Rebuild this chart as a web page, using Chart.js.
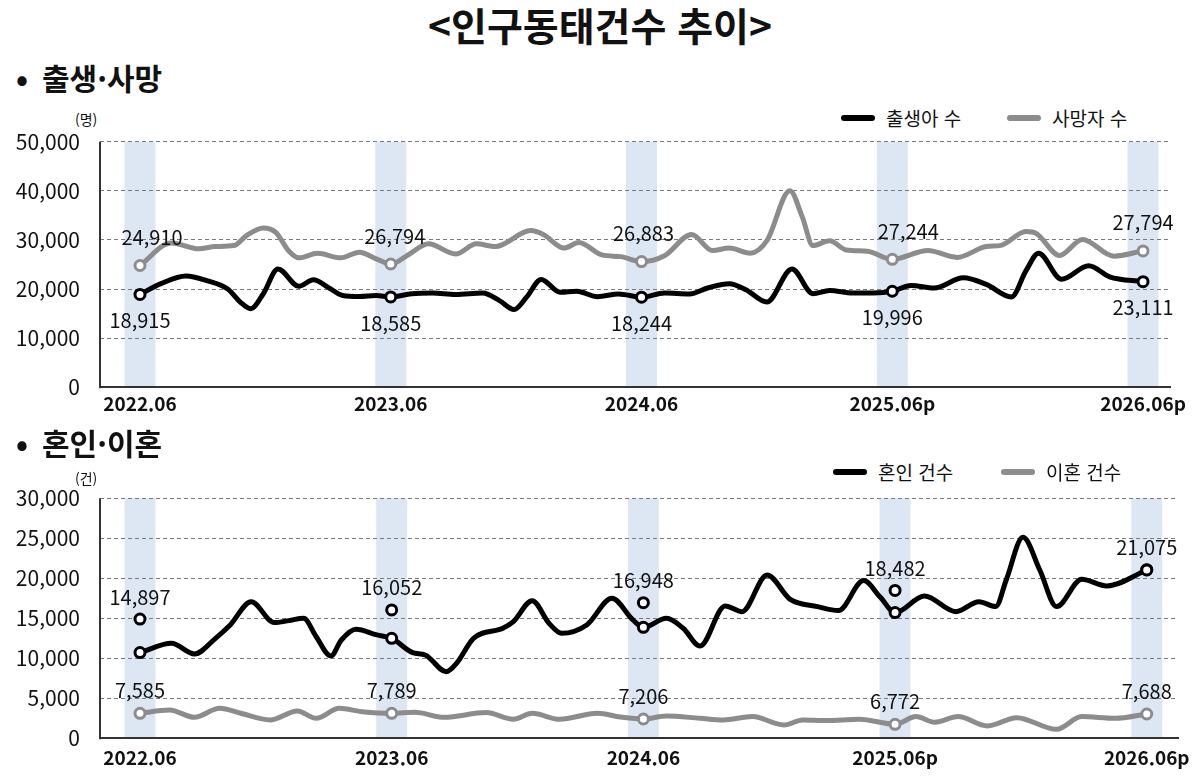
<!DOCTYPE html>
<html lang="ko">
<head>
<meta charset="utf-8">
<script src="https://cdn.jsdelivr.net/npm/chart.js@4.4.1/dist/chart.umd.min.js"></script>
<style>
html,body{margin:0;padding:0;background:#fff;}
body{width:1200px;height:780px;position:relative;overflow:hidden;font-family:'Noto Sans CJK KR','Noto Sans',sans-serif;color:#111;}
.title{position:absolute;left:0;top:1px;width:1200px;text-align:center;font-weight:700;font-size:39px;line-height:46px;}
.sec{position:absolute;left:16px;font-weight:700;font-size:30px;line-height:38px;display:flex;align-items:center;}
.sec b{font-size:30px;margin-right:14px;}
.unit{position:absolute;left:75px;font-size:14px;line-height:18px;}
.leg{position:absolute;display:flex;align-items:center;font-size:19px;line-height:24px;color:#111;}
.leg i{display:inline-block;width:34px;height:6px;border-radius:3px;margin-right:11px;}
.wrap{position:absolute;left:0;width:1200px;}
canvas{display:block;}
</style>
</head>
<body>
<div class="title">&lt;인구동태건수 추이&gt;</div>
<div class="sec" style="top:58px;"><b>•</b>출생·사망</div>
<div class="unit" style="top:110px;">(명)</div>
<div class="leg" style="left:841px;top:106px;"><i style="background:#000"></i>출생아 수</div>
<div class="leg" style="left:1007px;top:106px;"><i style="background:#8c8c8c"></i>사망자 수</div>
<div class="wrap" style="top:95px;height:330px;"><canvas id="c1" width="1200" height="330"></canvas></div>

<div class="sec" style="top:423px;"><b>•</b>혼인·이혼</div>
<div class="unit" style="top:469px;">(건)</div>
<div class="leg" style="left:833px;top:460px;"><i style="background:#000"></i>혼인 건수</div>
<div class="leg" style="left:1001px;top:460px;"><i style="background:#8c8c8c"></i>이혼 건수</div>
<div class="wrap" style="top:455px;height:320px;"><canvas id="c2" width="1200" height="320"></canvas></div>

<script>
// ---- tick labels (months since 2022.06) ----
const xTickMonths = [0, 12, 24, 36, 48];
const xLabels = ['2022.06', '2023.06', '2024.06', '2025.06p', '2026.06p'];

// ---- 출생아 수 (births) ----
const birthMonths = [0,1.0,2.2,3.2,4.2,4.8,5.3,5.9,6.6,7.6,8.3,9.0,9.7,10.5,11.3,12,13.0,14.0,15.1,16.4,17.2,17.9,18.5,19.2,20.1,20.9,21.9,22.9,24,25.1,26.3,27.2,28.2,29.0,30.0,31.2,32.2,33.0,34.1,35.1,36,36.9,38.0,39.4,40.5,41.7,42.4,43.0,44.1,45.4,46.4,48];
const birthValues = [18915,21100,22650,21700,20000,17350,16000,19050,24100,20550,21900,20350,18700,18500,18700,18400,19050,19200,18900,19200,17650,15850,18350,21950,19350,19550,18450,19000,18350,19200,19000,20270,21100,19850,17350,24100,19050,19700,19200,19200,19550,20750,20200,22300,20950,18400,23750,27300,22000,24750,22500,21500];
const birthLabels = ['18,915','18,585','18,244','19,996','23,111'];

// ---- 사망자 수 (deaths) ----
const deathMonths = [0,1.5,2.8,3.6,4.5,5.1,5.9,6.5,7.1,7.6,8.5,9.6,10.5,11.3,12,12.9,13.8,15.1,16.1,17.0,18.7,19.3,20.3,21.0,22.1,23.0,24,25.1,26.4,27.4,28.2,29.2,30.0,31.1,31.7,32.2,33.0,33.8,34.8,36,37.7,39.1,40.5,41.2,42.4,42.9,44.0,45.1,46.6,48];
const deathValues = [24800,29400,28200,28650,28850,30900,32450,31550,27850,26350,27300,26350,27500,26150,25100,27150,29200,27150,29200,28650,31900,31100,28350,29500,26950,26600,25600,26800,31100,27850,28350,27300,29850,40000,34600,28850,29850,27950,27700,26050,27850,26450,28650,28900,31700,31300,26850,30100,26700,27770];
const deathLabels = ['24,910','26,794','26,883','27,244','27,794'];

// ---- 혼인 건수 (marriages) ----
const marMonths = [0,1.5,2.6,3.6,4.3,5.3,6.4,7.1,7.8,8.4,9.1,9.6,10.3,11.3,12,13.0,13.6,14.6,15.1,15.9,17.3,17.8,18.7,19.5,20.1,21.3,22.5,23.5,24,25.1,25.9,26.7,27.9,28.7,29.9,31.0,32.3,33.3,34.5,35.3,36,37.4,38.9,40.0,40.8,41.3,42.1,42.9,43.7,44.9,46.1,48];
const marValues = [10710,11875,10540,12500,14170,17080,14460,14710,15000,12700,10290,12290,13625,12920,12500,10710,10420,8330,9400,12500,13750,14580,17200,14375,13125,14170,17500,14790,13875,15000,13750,11540,16540,15830,20420,17375,16460,15960,19710,17625,15710,17790,15830,17080,16460,19790,25125,21040,16460,19875,19040,21040];
const marMarkMonths = [0, 12, 24, 36, 48];
const marMarkValues = [14897, 16052, 16948, 18482, 21075];
const marLabels = ['14,897','16,052','16,948','18,482','21,075'];

// ---- 이혼 건수 (divorces) ----
const divMonths = [0,1.4,2.6,3.8,4.8,6.2,7.5,8.4,9.5,10.6,12,13.1,14.5,16.5,17.8,18.7,20.0,21.8,23.0,24,25.1,26.7,27.8,29.2,30.7,31.6,32.7,34.3,36,37.0,37.9,39.0,40.4,41.8,43.7,44.9,46.5,48];
const divValues = [3125,3540,2625,3750,3125,2290,3420,2500,3750,3330,3125,3250,2625,3210,2375,3125,2375,3125,2625,2415,2790,2500,2290,2710,1670,2290,2210,2375,1750,2710,2000,2710,1540,2580,1125,2710,2500,3040];
const divLabels = ['7,585','7,789','7,206','6,772','7,688'];

const FONT = "'Noto Sans CJK KR', 'Noto Sans', sans-serif";
Chart.defaults.font.family = FONT;
Chart.defaults.color = '#111';

const BLACK = '#000000';
const GRAY = '#8c8c8c';
const BAND = '#dde7f4';

function series(ms, vs) { return ms.map((m, i) => ({ x: m, y: vs[i] })); }
const isJune = c => c.raw && (c.raw.x % 12 === 0);

const bandPlugin = {
  id: 'bands',
  beforeDraw(chart) {
    const { ctx, chartArea: a, scales: { x } } = chart;
    ctx.save();
    ctx.fillStyle = BAND;
    xTickMonths.forEach(m => {
      const px = x.getPixelForValue(m);
      ctx.fillRect(px - 15.5, a.top, 31, a.bottom - a.top);
    });
    ctx.restore();
  }
};
const yLinePlugin = {
  id: 'yline',
  beforeDatasetsDraw(chart) {
    const { ctx, chartArea: a } = chart;
    ctx.save();
    ctx.strokeStyle = '#333';
    ctx.lineWidth = 2;
    ctx.beginPath();
    ctx.moveTo(a.left, a.top);
    ctx.lineTo(a.left, a.bottom + 1);
    ctx.stroke();
    ctx.restore();
  }
};
const labelPlugin = {
  id: 'vlabels',
  afterDatasetsDraw(chart, args, opts) {
    const ctx = chart.ctx;
    ctx.save();
    ctx.font = '20px ' + FONT;
    ctx.fillStyle = '#111';
    ctx.textAlign = 'center';
    ctx.textBaseline = 'middle';
    (opts.sets || []).forEach(s => {
      const meta = chart.getDatasetMeta(s.dataset);
      const data = chart.data.datasets[s.dataset].data;
      xTickMonths.forEach((m, k) => {
        const idx = data.findIndex(p => p.x === m);
        if (idx < 0) return;
        const el = meta.data[idx];
        const dx = (s.dx && s.dx[k]) || 0;
        ctx.fillText(s.texts[k], el.x + dx, el.y + s.dy);
      });
    });
    ctx.restore();
  }
};

function lineDs(label, data, color) {
  return {
    label, data,
    borderColor: color, backgroundColor: color,
    borderWidth: 5, borderCapStyle: 'round', borderJoinStyle: 'round',
    cubicInterpolationMode: 'monotone', fill: false,
    pointRadius: c => isJune(c) ? 5 : 0,
    pointHoverRadius: c => isJune(c) ? 5 : 0,
    pointBackgroundColor: '#fff', pointBorderColor: color, pointBorderWidth: 3
  };
}

function makeOptions(o) {
  return {
    responsive: false, animation: false, events: [],
    layout: { padding: { top: o.padTop, right: o.padRight, left: 0, bottom: 0 } },
    plugins: {
      legend: { display: false }, tooltip: { enabled: false },
      vlabels: { sets: o.sets }
    },
    scales: {
      x: {
        type: 'linear', min: o.xMin, max: o.xMax,
        afterBuildTicks: s => { s.ticks = xTickMonths.map(v => ({ value: v })); },
        afterFit: s => { s.height = o.xHeight; },
        ticks: {
          autoSkip: false, maxRotation: 0, padding: o.xPad, color: '#111',
          font: { size: 19, weight: 'bold' },
          callback: v => xLabels[xTickMonths.indexOf(v)]
        },
        grid: { display: false, drawTicks: false },
        border: { display: true, color: '#333', width: 2 }
      },
      y: {
        min: 0, max: o.yMax,
        afterFit: s => { s.width = 100; },
        ticks: {
          stepSize: o.yStep, padding: 20, color: '#111', font: { size: 21 },
          callback: v => v.toLocaleString('en-US')
        },
        grid: {
          drawTicks: false, lineWidth: 1,
          color: c => (c.tick && c.tick.value === 0) ? 'rgba(0,0,0,0)' : '#7a7a7a'
        },
        border: { display: false, dash: [4, 3] }
      }
    }
  };
}

new Chart(document.getElementById('c1'), {
  type: 'line',
  data: {
    datasets: [
      lineDs('출생아 수', series(birthMonths, birthValues), BLACK),
      lineDs('사망자 수', series(deathMonths, deathValues), GRAY)
    ]
  },
  options: makeOptions({
    padTop: 46.7, padRight: 30, xHeight: 37.7, xPad: 5,
    xMin: -1.914, xMax: 49.29, yMax: 50000, yStep: 10000,
    sets: [
      { dataset: 0, texts: birthLabels, dy: 26 },
      { dataset: 1, texts: deathLabels, dy: -28, dx: [12, 4, 2, 16, 0] }
    ]
  }),
  plugins: [bandPlugin, yLinePlugin, labelPlugin]
});

new Chart(document.getElementById('c2'), {
  type: 'line',
  data: {
    datasets: [
      lineDs('혼인 건수', series(marMonths, marValues), BLACK),
      lineDs('이혼 건수', series(divMonths, divValues), GRAY),
      {
        label: '혼인 건수 표시', data: series(marMarkMonths, marMarkValues),
        showLine: false, borderColor: BLACK, backgroundColor: '#fff',
        pointRadius: 5, pointHoverRadius: 5, pointBackgroundColor: '#fff',
        pointBorderColor: BLACK, pointBorderWidth: 3
      }
    ]
  },
  options: makeOptions({
    padTop: 43.3, padRight: 22, xHeight: 36.7, xPad: 8,
    xMin: -1.907, xMax: 49.49, yMax: 30000, yStep: 5000,
    sets: [
      { dataset: 2, texts: marLabels, dy: -22 },
      { dataset: 1, texts: divLabels, dy: -23 }
    ]
  }),
  plugins: [bandPlugin, yLinePlugin, labelPlugin]
});
</script>
</body>
</html>
